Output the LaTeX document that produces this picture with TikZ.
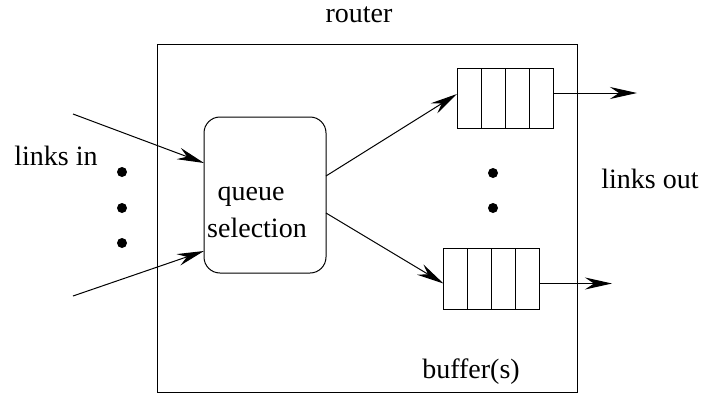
\documentclass[tikz,border=0pt]{standalone}
\usepackage{fontspec}
\setmainfont{Liberation Serif}
\usetikzlibrary{arrows.meta}
\begin{document}
\begin{tikzpicture}[x=1pt,y=-1pt,
  line width=1pt,
  lbl/.style={font=\fontsize{28}{30}\selectfont, inner sep=0pt, anchor=base},
  arr/.style={-{Stealth[length=27pt,width=12pt,inset=9pt]}},
  bufcell/.style={draw, minimum width=24pt, minimum height=60pt, inner sep=0pt, outer sep=0pt},
  dot/.style={circle, fill=black, minimum size=10pt, inner sep=0pt}]
\useasboundingbox (0,0) rectangle (702,394);

% router outline and title
\node[lbl] (title) at (359,22) {router};
\draw (157,44) rectangle (577,392);
\node[lbl] (buf) at (471,378) {buffer(s)};

% queue selection block
\node[draw, rounded corners=16pt, minimum width=122pt, minimum height=156pt,
      inner sep=0pt] (sel) at (265,195) {};
\node[lbl] (q1) at (251,200) {queue};
\node[lbl] (q2) at (257,237) {selection};

% incoming links
\coordinate (in1) at (73,114);
\coordinate (in2) at (73,296);
\coordinate (sel1) at (204,163);
\coordinate (sel2) at (204,251);
\draw[arr] (in1) -- (sel1);
\draw[arr] (in2) -- (sel2);
\node[lbl] (linksin) at (56,165) {links in};
\node[dot] (d1) at (122,172) {};
\node[dot] (d2) at (122,208) {};
\node[dot] (d3) at (122,243) {};

% top output buffer
\foreach \i in {0,1,2,3} {
  \node[bufcell] (ta\i) at (469+\i*24,98) {};
}
% bottom output buffer
\foreach \i in {0,1,2,3} {
  \node[bufcell, minimum height=61pt] (ba\i) at (455.5+\i*24,278.5) {};
}

% buffer ports sit a little off the buffer mid-line
\coordinate (ti) at ([yshift=4pt]ta0.west);
\coordinate (to) at ([yshift=5pt]ta3.east);
\coordinate (bi) at ([yshift=-5pt]ba0.west);
\coordinate (bo) at ([yshift=-5pt]ba3.east);

\coordinate (selo1) at (326,176);
\coordinate (selo2) at (326,213);
\draw[arr] (selo1) -- (ti);
\draw[arr] (selo2) -- (bi);

\coordinate (out1) at (637,93);
\coordinate (out2) at (612,283.5);
\draw[arr] (to) -- (out1);
\draw[arr] (bo) -- (out2);

\node[dot] (d4) at (493,173) {};
\node[dot] (d5) at (493,208) {};
\node[lbl] (linksout) at (650,188) {links out};
\end{tikzpicture}
\end{document}
